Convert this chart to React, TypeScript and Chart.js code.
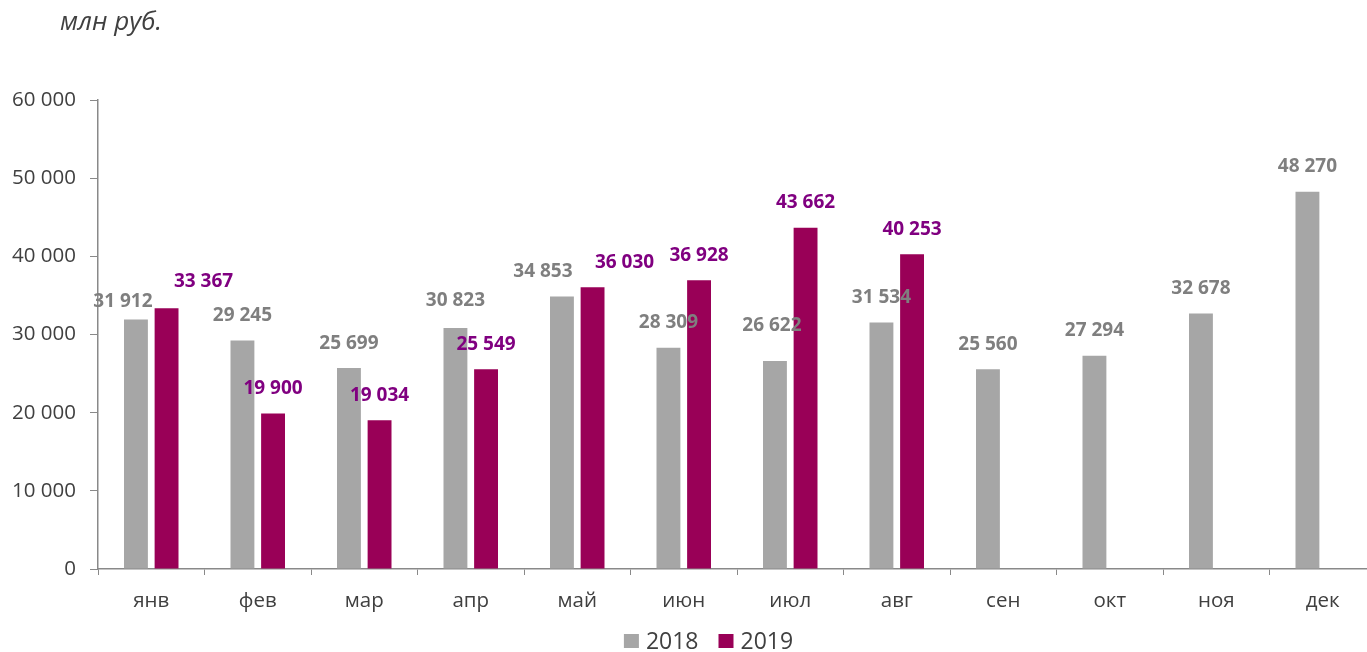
import React, { useEffect, useRef } from "react";
import { Chart, registerables } from "chart.js";

Chart.register(...registerables);

const months = ["янв", "фев", "мар", "апр", "май", "июн", "июл", "авг", "сен", "окт", "ноя", "дек"];
const values2018 = [31912, 29245, 25699, 30823, 34853, 28309, 26622, 31534, 25560, 27294, 32678, 48270];
const values2019 = [33367, 19900, 19034, 25549, 36030, 36928, 43662, 40253, null, null, null, null];
const seriesNames = ["2018", "2019"];
const yTicks = [0, 10000, 20000, 30000, 40000, 50000, 60000];
const unitTitle = "млн руб.";

const barColors = ["#A6A6A6", "#990057"];
const labelColors = ["#7F7F7F", "#800080"];
// manual label nudges (dx, dy) as in the source: "dataset-index"
const labelNudges: Record<string, [number, number]> = {
  "0-0": [-13, 7],
  "1-0": [37, -2],
  "0-4": [-19, 0],
  "1-4": [32, 0],
  "0-6": [-3, -10],
  "0-3": [0, -2],
};

const fmt = (v: number) => String(Math.round(v)).replace(/\B(?=(\d{3})+(?!\d))/g, " ");

const W = 1376;
const H = 652;

export default function App() {
  const ref = useRef<HTMLCanvasElement | null>(null);

  useEffect(() => {
    if (!ref.current) return;
    const labelsPlugin = {
      id: "valueLabels",
      afterDatasetsDraw(chart: any) {
        const ctx = chart.ctx;
        ctx.save();
        ctx.font = "bold 19px 'Open Sans'";
        ctx.textAlign = "center";
        ctx.textBaseline = "middle";
        chart.data.datasets.forEach((ds: any, di: number) => {
          const meta = chart.getDatasetMeta(di);
          meta.data.forEach((el: any, i: number) => {
            const v = ds.data[i];
            if (v === null || v === undefined) return;
            const n = labelNudges[`${di}-${i}`] || [0, 0];
            ctx.fillStyle = labelColors[di];
            ctx.fillText(fmt(v), el.x + n[0], el.y - 25 + n[1]);
          });
        });
        ctx.restore();
      },
    };
    const decorPlugin = {
      id: "decor",
      afterDraw(chart: any) {
        const ctx = chart.ctx;
        ctx.save();
        // title
        ctx.font = "italic 26px 'Open Sans'";
        ctx.fillStyle = "#404040";
        ctx.textAlign = "left";
        ctx.textBaseline = "alphabetic";
        ctx.fillText(unitTitle, 60, 30);
        // legend
        ctx.font = "23px 'Open Sans'";
        const box = 15;
        const gap = 7;
        const spacing = 20;
        const widths = seriesNames.map((s) => ctx.measureText(s).width);
        const total = widths.reduce((a, w) => a + box + gap + w, 0) + spacing * (seriesNames.length - 1);
        let x = 708.5 - total / 2;
        const cy = 641;
        ctx.textBaseline = "middle";
        seriesNames.forEach((s, i) => {
          ctx.fillStyle = barColors[i];
          ctx.fillRect(x, cy - 7, box, 14);
          x += box + gap;
          ctx.fillStyle = "#404040";
          ctx.fillText(s, x, cy + 1);
          x += widths[i] + spacing;
        });
        ctx.restore();
      },
    };

    const chart = new Chart(ref.current, {
      type: "bar",
      data: {
        labels: months,
        datasets: [
          {
            label: seriesNames[0],
            data: values2018,
            backgroundColor: barColors[0],
            categoryPercentage: 0.575,
            barPercentage: 0.78,
          },
          {
            label: seriesNames[1],
            data: values2019 as any,
            backgroundColor: barColors[1],
            categoryPercentage: 0.575,
            barPercentage: 0.78,
          },
        ],
      },
      options: {
        responsive: false,
        animation: false,
        layout: { padding: { top: 100, left: 0, right: 0, bottom: 0 } },
        plugins: {
          legend: { display: false },
          tooltip: { enabled: false },
          title: { display: false },
        },
        scales: {
          x: {
            offset: true,
            grid: {
              offset: true,
              drawOnChartArea: false,
              drawTicks: true,
              tickLength: 6,
              color: "#898989",
            },
            border: { color: "#898989", width: 1.5 },
            ticks: {
              font: { family: "'Open Sans'", size: 20.5 },
              color: "#404040",
              padding: 14,
              maxRotation: 0,
            },
            afterFit: (scale: any) => {
              scale.height = H - 569;
            },
          },
          y: {
            min: 0,
            max: 60000,
            afterBuildTicks: (scale: any) => {
              scale.ticks = yTicks.map((v) => ({ value: v }));
            },
            grid: {
              drawOnChartArea: false,
              drawTicks: true,
              tickLength: 8,
              color: "#898989",
            },
            border: { color: "#898989", width: 1.5 },
            ticks: {
              font: { family: "'Open Sans'", size: 20.5 },
              color: "#404040",
              padding: 14,
              callback: (v: any) => fmt(Number(v)),
            },
            afterFit: (scale: any) => {
              scale.width = 98;
            },
          },
        },
      },
      plugins: [labelsPlugin, decorPlugin],
    });
    return () => chart.destroy();
  }, []);

  return (
    <div
      style={{
        position: "fixed",
        left: 0,
        top: 0,
        width: 1367,
        height: 652,
        overflow: "hidden",
        background: "#fff",
      }}
    >
      <canvas ref={ref} width={W} height={H} style={{ width: W, height: H, display: "block" }} />
    </div>
  );
}
